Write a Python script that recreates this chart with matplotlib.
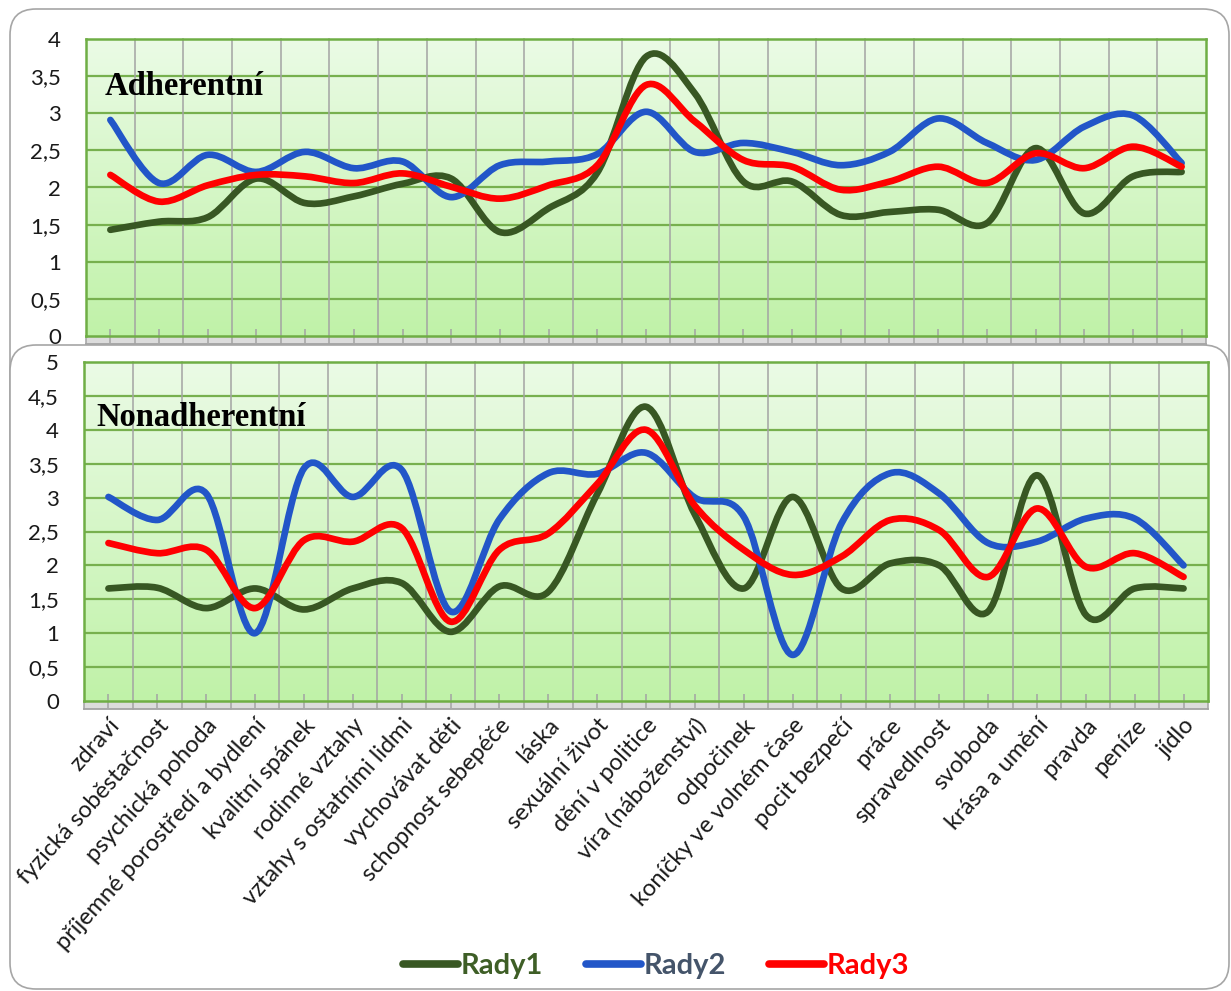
import numpy as np
import matplotlib
matplotlib.use("Agg")
import matplotlib.pyplot as plt
from matplotlib.path import Path
from matplotlib.patches import PathPatch, FancyBboxPatch, Rectangle
from matplotlib.lines import Line2D
from matplotlib.ticker import FuncFormatter, MultipleLocator

plt.rcParams["font.family"] = ["Lato", "DejaVu Sans"]

# ---- data ---------------------------------------------------------------
CATEGORIES = [
    "zdraví", "fyzická soběstačnost", "psychická pohoda",
    "příjemné porostředí a bydlení", "kvalitní spánek", "rodinné vztahy",
    "vztahy s ostatními lidmi", "vychovávat děti", "schopnost sebepéče",
    "láska", "sexuální život", "dění v politice", "víra (náboženství)",
    "odpočinek", "koníčky ve volném čase", "pocit bezpečí", "práce",
    "spravedlnost", "svoboda", "krása a umění", "pravda", "peníze", "jídlo",
]
SERIES = ["Rady1", "Rady2", "Rady3"]

ADH_R1 = [1.43, 1.54, 1.60, 2.12, 1.79, 1.88, 2.05, 2.12, 1.40, 1.72, 2.20, 3.76,
          3.27, 2.08, 2.08, 1.63, 1.67, 1.70, 1.52, 2.53, 1.65, 2.15, 2.21]
ADH_R2 = [2.91, 2.06, 2.44, 2.21, 2.48, 2.26, 2.35, 1.87, 2.30, 2.35, 2.45, 3.02,
          2.48, 2.60, 2.48, 2.30, 2.48, 2.93, 2.60, 2.37, 2.82, 2.97, 2.33]
ADH_R3 = [2.17, 1.81, 2.03, 2.17, 2.15, 2.06, 2.19, 2.01, 1.85, 2.03, 2.30, 3.38,
          2.89, 2.37, 2.28, 1.97, 2.08, 2.28, 2.06, 2.46, 2.26, 2.55, 2.28]

NON_R1 = [1.66, 1.67, 1.37, 1.66, 1.35, 1.66, 1.74, 1.02, 1.69, 1.61, 3.05, 4.34,
          2.75, 1.66, 3.01, 1.66, 2.03, 2.00, 1.32, 3.33, 1.27, 1.66, 1.66]
NON_R2 = [3.01, 2.67, 3.06, 1.00, 3.43, 3.01, 3.41, 1.32, 2.68, 3.36, 3.35, 3.66,
          3.00, 2.72, 0.68, 2.62, 3.36, 3.06, 2.33, 2.35, 2.69, 2.69, 2.00]
NON_R3 = [2.33, 2.18, 2.23, 1.37, 2.37, 2.35, 2.55, 1.17, 2.23, 2.47, 3.20, 4.00,
          2.88, 2.23, 1.86, 2.13, 2.67, 2.52, 1.83, 2.84, 1.98, 2.18, 1.83]

# ---- style --------------------------------------------------------------
LINE_COLORS = ["#385723", "#2256C8", "#FF0000"]
LEGEND_TEXT = ["#3E5E26", "#44546A", "#FF0000"]
GRID_GREEN = "#77B04E"
GRID_GRAY = "#A3A3A3"
FRAME_GRAY = "#A6A6A6"
GRAD_TOP = np.array([235, 251, 230]) / 255
GRAD_BOT = np.array([192, 242, 168]) / 255

W, H = 1231, 991


def px_rect(left, top, right, bottom):
    return [left / W, 1 - bottom / H, (right - left) / W, (bottom - top) / H]


def smooth_path(xs, ys):
    # Excel-like smoothed line: Catmull-Rom converted to cubic Bezier
    pts = np.column_stack([xs, ys]).astype(float)
    ext = np.vstack([pts[0], pts, pts[-1]])
    verts, codes = [pts[0]], [Path.MOVETO]
    for i in range(len(pts) - 1):
        p0, p1, p2, p3 = ext[i], ext[i + 1], ext[i + 2], ext[i + 3]
        verts += [p1 + (p2 - p0) / 6, p2 - (p3 - p1) / 6, p2]
        codes += [Path.CURVE4] * 3
    return Path(verts, codes)


def style_chart(ax, ymax, title, title_x, band_px, h_px, show_labels):
    n = len(CATEGORIES)
    grad = np.linspace(GRAD_TOP, GRAD_BOT, 256)[:, None, :]
    ax.imshow(grad, extent=[0, 1, 0, 1], transform=ax.transAxes,
              aspect="auto", zorder=0, interpolation="bilinear")
    ax.set_xlim(-0.5, n - 0.5)
    ax.set_ylim(0, ymax)

    band = band_px / h_px
    for yv in np.arange(0.5, ymax, 0.5):
        ax.axhline(yv, color=GRID_GREEN, lw=1.6, zorder=1)
    for xb in np.arange(0.5, n - 1, 1):
        ax.axvline(xb, ymin=-band, ymax=1, color=GRID_GRAY, lw=1.1,
                   zorder=1, clip_on=False)
    for xb in (-0.5, n - 0.5):
        ax.axvline(xb, ymin=-band, ymax=0, color=GRID_GRAY, lw=1.1,
                   zorder=1, clip_on=False)
    ax.add_patch(Rectangle((0, -band), 1, band, transform=ax.transAxes,
                           facecolor="#DCDCDC", edgecolor="none",
                           clip_on=False, zorder=0.5))
    ax.plot([0, 1], [-band, -band], transform=ax.transAxes, color=GRID_GRAY,
            lw=1.3, clip_on=False, zorder=1)

    for s in ax.spines.values():
        s.set_color("#6FAE45")
        s.set_linewidth(1.8)

    ax.yaxis.set_major_locator(MultipleLocator(0.5))
    ax.yaxis.set_major_formatter(
        FuncFormatter(lambda v, p: f"{v:g}".replace(".", ",")))
    ax.tick_params(axis="y", length=0, pad=18, labelsize=16,
                   labelcolor="#1A1A1A")
    ax.set_xticks(range(n))
    ax.tick_params(axis="x", direction="inout", length=10, width=1.1,
                   color=GRID_GRAY, pad=5)
    if show_labels:
        ax.set_xticklabels(CATEGORIES, rotation=48, ha="right", va="top",
                           rotation_mode="anchor", fontsize=17,
                           color="#1A1A1A")
    else:
        ax.set_xticklabels([])

    ax.text(title_x, 0.81, title, transform=ax.transAxes,
            fontfamily="Liberation Serif", fontweight="bold", fontsize=23.5,
            va="baseline", ha="left", zorder=4)


def draw_series(ax, values_list):
    xs = np.arange(len(CATEGORIES))
    for vals, col in zip(values_list, LINE_COLORS):
        ax.add_patch(PathPatch(smooth_path(xs, vals), fill=False,
                               edgecolor=col, lw=4.8, capstyle="round",
                               joinstyle="round", zorder=3))


fig = plt.figure(figsize=(W / 100, H / 100), dpi=100)

# frame of the upper chart
bg = fig.add_axes([0, 0, 1, 1], zorder=0)
bg.set_xlim(0, W)
bg.set_ylim(H, 0)
bg.axis("off")
bg.add_patch(FancyBboxPatch((10, 9), 1219, 600,
                            boxstyle="round,pad=0,rounding_size=26",
                            facecolor="white", edgecolor=FRAME_GRAY, lw=1.2))

ax_top = fig.add_axes(px_rect(86, 39, 1206, 336), zorder=1)
style_chart(ax_top, 4, "Adherentní", 0.017, 8, 297, False)
draw_series(ax_top, [ADH_R1, ADH_R2, ADH_R3])

# frame of the lower chart, laid over the first one
mid = fig.add_axes([0, 0, 1, 1], zorder=2)
mid.set_xlim(0, W)
mid.set_ylim(H, 0)
mid.axis("off")
mid.add_patch(FancyBboxPatch((10, 345), 1219, 644,
                             boxstyle="round,pad=0,rounding_size=26",
                             facecolor="white", edgecolor=FRAME_GRAY, lw=1.2))

ax_bot = fig.add_axes(px_rect(84, 362, 1208, 701), zorder=3)
style_chart(ax_bot, 5, "Nonadherentní", 0.011, 8, 339, True)
draw_series(ax_bot, [NON_R1, NON_R2, NON_R3])

handles = [Line2D([], [], color=c, lw=5.5, solid_capstyle="round")
           for c in LINE_COLORS]
leg = fig.legend(handles, SERIES, loc="center",
                 bbox_to_anchor=(656 / W, 1 - 966 / H), ncol=3, frameon=False,
                 prop=dict(family="Lato", weight="bold", size=21),
                 handlelength=1.9, handletextpad=0.1, columnspacing=1.45)
for t, c in zip(leg.get_texts(), LEGEND_TEXT):
    t.set_color(c)

fig.savefig("out.png", dpi=100)
